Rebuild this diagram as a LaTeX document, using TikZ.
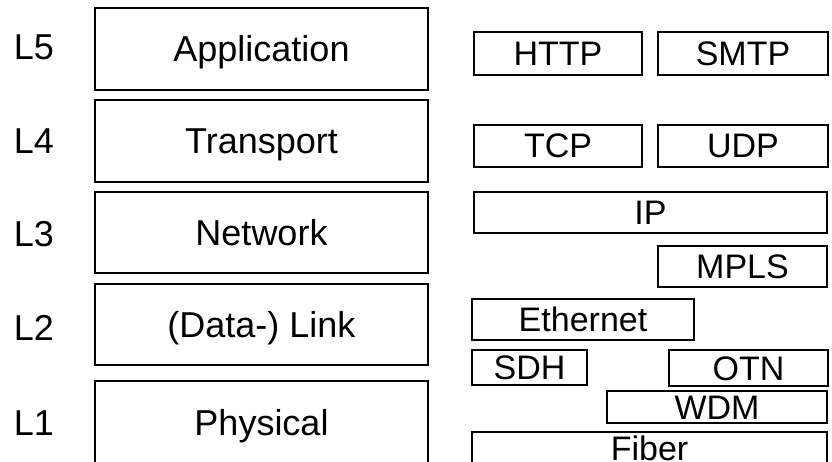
\documentclass[tikz,border=0pt]{standalone}
\usepackage{fontspec}
\setmainfont{Liberation Sans}
\begin{document}
\begin{tikzpicture}[x=1pt,y=-1pt,
  layer/.style={draw=black, line width=1.6pt, inner sep=0pt, minimum width=333pt,
    font=\fontsize{36}{40}\selectfont, text height=26pt, text depth=0pt},
  proto/.style={draw=black, line width=1.4pt, inner sep=0pt,
    font=\fontsize{34}{38}\selectfont, text height=24pt, text depth=0pt},
  lvl/.style={inner sep=0pt, font=\fontsize{36}{40}\selectfont, text height=26pt, text depth=0pt}]
\useasboundingbox (0,0) rectangle (832,462);

% OSI-style layer stack
\node[layer, minimum height=82pt] (app) at (261.5,49) {Application};
\node[layer, minimum height=82pt] (trn) at (261.5,141) {Transport};
\node[layer, minimum height=81pt] (net) at (261.5,232.5) {Network};
\node[layer, minimum height=81pt] (lnk) at (261.5,324.5) {(Data-) Link};
\node[layer, minimum height=83pt] (phy) at (261.5,422.5) {Physical};

% layer numbers
\node[lvl] (l5) at (34,47) {L5};
\node[lvl] (l4) at (34,141) {L4};
\node[lvl] (l3) at (34,234) {L3};
\node[lvl] (l2) at (34,327) {L2};
\node[lvl] (l1) at (34,422.5) {L1};

% protocols
\node[proto, minimum width=168pt, minimum height=43pt] (http) at (558,53.5) {HTTP};
\node[proto, minimum width=170pt, minimum height=43pt] (smtp) at (743,53.5) {SMTP};
\node[proto, minimum width=168pt, minimum height=42pt] (tcp) at (558,146) {TCP};
\node[proto, minimum width=170pt, minimum height=42pt] (udp) at (743,146) {UDP};
\node[proto, minimum width=353pt, minimum height=41pt] (ip) at (650.5,212.5) {IP};
\node[proto, minimum width=169pt, minimum height=41pt] (mpls) at (742.5,266.5) {MPLS};
\node[proto, minimum width=222pt, minimum height=41pt] (eth) at (583,319.5) {Ethernet};
\node[proto, minimum width=115pt, minimum height=35pt] (sdh) at (529.5,367.5) {SDH};
\node[proto, minimum width=159pt, minimum height=36pt] (otn) at (748.5,368) {OTN};
\node[proto, minimum width=220pt, minimum height=32pt] (wdm) at (717,407) {WDM};
\node[proto, minimum width=355pt, minimum height=32pt] (fib) at (649.5,448) {Fiber};
\end{tikzpicture}
\end{document}
